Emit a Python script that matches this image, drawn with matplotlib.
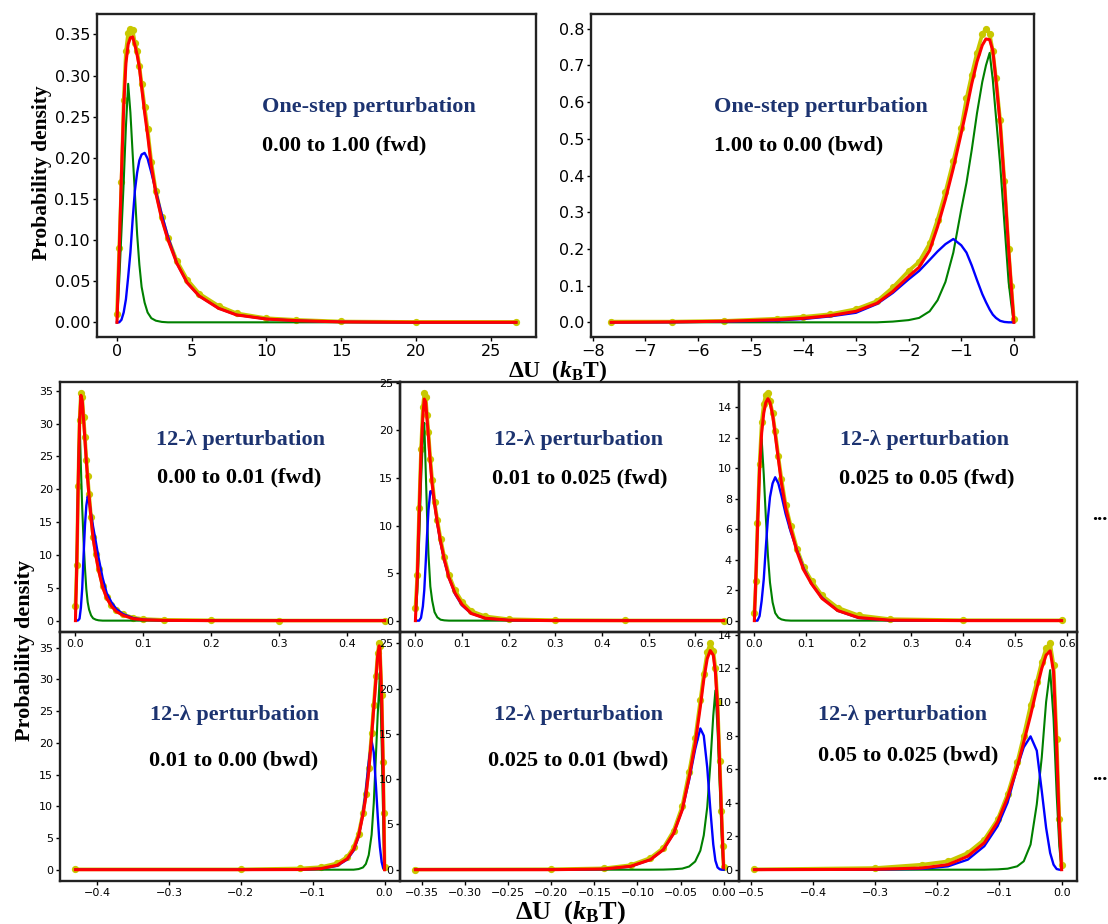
import matplotlib
matplotlib.use("Agg")
import matplotlib.pyplot as plt
from matplotlib.ticker import MultipleLocator

plt.rcParams['font.family'] = ['DejaVu Sans']
plt.rcParams['mathtext.fontset'] = 'custom'
plt.rcParams['mathtext.rm'] = 'Liberation Serif:bold'
plt.rcParams['mathtext.it'] = 'Liberation Serif:bold:italic'
plt.rcParams['mathtext.bf'] = 'Liberation Serif:bold'

# ---- one-step, 0.00 -> 1.00 (fwd)
tl_x = [0, 0.15, 0.3, 0.45, 0.6, 0.75, 0.9, 1.05, 1.2, 1.35, 1.5, 1.65, 1.85, 2.05,
        2.3, 2.6, 3.0, 3.4, 4.0, 4.7, 5.5, 6.8, 8.0, 10, 12, 15, 20, 26.7]
tl_dots = [0.01, 0.09, 0.17, 0.27, 0.33, 0.352, 0.357, 0.355, 0.34, 0.33, 0.312, 0.29, 0.262, 0.235,
           0.195, 0.16, 0.128, 0.103, 0.075, 0.052, 0.035, 0.02, 0.011, 0.005, 0.003, 0.001, 0.0005, 0.0005]
tl_green = [0, 0.05, 0.11, 0.17, 0.238, 0.290, 0.255, 0.205, 0.157, 0.107, 0.07, 0.043, 0.024, 0.012,
            0.005, 0.002, 0.0005, 0, 0, 0, 0, 0, 0, 0, 0, 0, 0, 0]
tl_blue = [0, 0, 0.003, 0.012, 0.028, 0.055, 0.085, 0.125, 0.16, 0.182, 0.197, 0.204, 0.206, 0.199,
           0.182, 0.16, 0.131, 0.105, 0.072, 0.048, 0.032, 0.017, 0.009, 0.004, 0.002, 0.0005, 0, 0]
tl_red = [0, 0.084, 0.18, 0.262, 0.315, 0.338, 0.346, 0.347, 0.337, 0.325, 0.31, 0.286, 0.255, 0.228,
          0.19, 0.157, 0.125, 0.101, 0.072, 0.048, 0.032, 0.017, 0.009, 0.004, 0.002, 0.0005, 0, 0]

# ---- one-step, 1.00 -> 0.00 (bwd)
tr_x = [-7.65, -6.5, -5.5, -4.5, -4.0, -3.5, -3.0, -2.6, -2.3, -2.0, -1.8, -1.6, -1.45, -1.3,
        -1.15, -1.0, -0.9, -0.8, -0.7, -0.6, -0.53, -0.46, -0.4, -0.34, -0.26, -0.18, -0.1, -0.05, 0.0]
tr_dots = [0.002, 0.002, 0.004, 0.01, 0.015, 0.022, 0.036, 0.058, 0.095, 0.14, 0.165, 0.215, 0.28, 0.355,
           0.44, 0.53, 0.61, 0.675, 0.735, 0.785, 0.80, 0.785, 0.74, 0.665, 0.55, 0.385, 0.2, 0.1, 0.01]
tr_green = [0, 0, 0, 0, 0, 0, 0, 0, 0.002, 0.006, 0.012, 0.03, 0.06, 0.11,
            0.19, 0.307, 0.38, 0.47, 0.57, 0.655, 0.70, 0.734, 0.66, 0.56, 0.43, 0.27, 0.11, 0.05, 0]
tr_blue = [0, 0.0005, 0.002, 0.005, 0.009, 0.016, 0.026, 0.05, 0.08, 0.117, 0.14, 0.17, 0.193, 0.213,
           0.227, 0.21, 0.19, 0.155, 0.115, 0.077, 0.055, 0.035, 0.021, 0.012, 0.004, 0.001, 0, 0, 0]
tr_red = [0, 0.001, 0.003, 0.007, 0.011, 0.018, 0.03, 0.052, 0.084, 0.125, 0.15, 0.196, 0.26, 0.335,
          0.42, 0.515, 0.58, 0.65, 0.71, 0.755, 0.772, 0.77, 0.74, 0.66, 0.54, 0.38, 0.2, 0.1, 0]

# ---- 12-lambda, 0.00 -> 0.01 (fwd)
f1_x = [0, 0.002, 0.004, 0.006, 0.008, 0.010, 0.012, 0.014, 0.016, 0.018, 0.020, 0.023, 0.026,
        0.030, 0.034, 0.040, 0.046, 0.053, 0.060, 0.070, 0.085, 0.10, 0.13, 0.2, 0.3, 0.455]
f1_dots = [2.2, 8.5, 20.5, 30.5, 34.6, 34, 31, 28, 24.5, 22, 19.3, 15.8, 12.8,
           10.2, 7.9, 5.3, 3.6, 2.4, 1.6, 0.95, 0.45, 0.25, 0.12, 0.05, 0.02, 0.01]
f1_green = [0, 10, 22, 31, 23.5, 17, 12, 8, 4.8, 2.8, 1.7, 0.8, 0.35,
            0.15, 0.05, 0, 0, 0, 0, 0, 0, 0, 0, 0, 0, 0]
f1_blue = [0, 0, 0.05, 0.3, 2, 5, 10, 14.5, 17.5, 18.9, 18.3, 16.2, 14.3,
           12, 9.6, 6.5, 4.2, 2.8, 1.8, 1.0, 0.4, 0.15, 0.05, 0, 0, 0]
f1_red = [0, 8.6, 20.8, 30, 34.3, 33.5, 30.5, 27.5, 24.3, 21.5, 19, 15.5, 12.5,
          9.9, 7.7, 5.1, 3.4, 2.2, 1.4, 0.8, 0.3, 0.12, 0.04, 0, 0, 0]

# ---- 12-lambda, 0.01 -> 0.025 (fwd)
f2_x = [0, 0.004, 0.008, 0.012, 0.016, 0.019, 0.022, 0.025, 0.028, 0.032, 0.036, 0.041,
        0.047, 0.054, 0.062, 0.072, 0.085, 0.1, 0.12, 0.15, 0.2, 0.3, 0.45, 0.661]
f2_dots = [1.3, 4.8, 11.8, 18, 22.5, 23.9, 23.5, 21.6, 19.8, 17, 14.8, 12.5,
           10.6, 8.6, 6.7, 4.8, 3.2, 2.0, 1.0, 0.45, 0.15, 0.05, 0.02, 0.01]
f2_green = [0, 3, 8.5, 14.5, 19.2, 20.8, 16, 11, 7, 3.6, 2.1, 0.9,
            0.35, 0.1, 0.03, 0, 0, 0, 0, 0, 0, 0, 0, 0]
f2_blue = [0, 0, 0, 0.3, 1.5, 3.2, 6, 9, 11.6, 13.6, 13.6, 12.4,
           10.2, 8.2, 6.3, 4.5, 2.8, 1.6, 0.75, 0.25, 0.05, 0, 0, 0]
f2_red = [0, 4.5, 11.3, 17.5, 21.5, 23.3, 23, 21.2, 19.3, 16.6, 14.3, 12.3,
          10.3, 8.3, 6.4, 4.5, 2.9, 1.7, 0.75, 0.25, 0.05, 0, 0, 0]

# ---- 12-lambda, 0.025 -> 0.05 (fwd)
f3_x = [0, 0.003, 0.006, 0.010, 0.014, 0.018, 0.022, 0.026, 0.030, 0.035, 0.040, 0.046,
        0.052, 0.060, 0.070, 0.082, 0.095, 0.11, 0.13, 0.16, 0.2, 0.26, 0.4, 0.59]
f3_dots = [0.5, 2.6, 6.4, 10.3, 13, 14.2, 14.8, 14.9, 14.4, 13.6, 12.4, 10.8,
           9.3, 7.6, 6.2, 4.7, 3.5, 2.6, 1.65, 0.85, 0.35, 0.1, 0.03, 0.02]
f3_green = [0, 3, 6.3, 9.8, 11.9, 9.6, 6.8, 4.3, 2.5, 1.2, 0.5, 0.2,
            0.08, 0.02, 0, 0, 0, 0, 0, 0, 0, 0, 0, 0]
f3_blue = [0, 0, 0, 0.3, 1.3, 2.7, 4.8, 6.7, 8.1, 9.0, 9.4, 9.0,
           8.2, 7.0, 5.8, 4.6, 3.4, 2.4, 1.5, 0.65, 0.18, 0.02, 0, 0]
f3_red = [0, 3, 6, 9.9, 12.3, 13.6, 14.3, 14.55, 14.3, 13.5, 12.2, 10.6,
          9.0, 7.4, 6.0, 4.5, 3.3, 2.4, 1.45, 0.66, 0.2, 0.03, 0, 0]

# ---- 12-lambda, 0.01 -> 0.00 (bwd)
b1_x = [-0.43, -0.2, -0.117, -0.089, -0.066, -0.052, -0.043, -0.036, -0.030, -0.026, -0.022,
        -0.018, -0.015, -0.012, -0.0095, -0.0075, -0.0065, -0.004, -0.002, -0.001, 0]
b1_dots = [0.05, 0.05, 0.2, 0.4, 1.0, 2.0, 3.5, 5.7, 9, 12, 16,
           21.5, 26, 30.5, 34.2, 35.7, 35.2, 27.5, 17, 9, 0.5]
b1_green = [0, 0, 0, 0, 0, 0, 0, 0.1, 0.35, 0.9, 2.3,
            5.5, 10.5, 18, 24.5, 28.5, 31.1, 20, 9, 4, 0]
b1_blue = [0, 0, 0.02, 0.15, 0.6, 1.6, 3, 5.2, 9, 12.5, 17,
           20.3, 18.5, 13.3, 8.5, 5, 3.6, 1.2, 0.3, 0.1, 0]
b1_red = [0, 0, 0.02, 0.16, 0.7, 1.7, 3.2, 5.4, 8.7, 11.5, 15.5,
          21, 25.5, 30, 33.8, 35.3, 35, 27, 16.5, 8.5, 0]

# ---- 12-lambda, 0.025 -> 0.01 (bwd)
b2_x = [-0.3577, -0.2, -0.139, -0.108, -0.085, -0.07, -0.058, -0.048, -0.040, -0.033, -0.027,
        -0.023, -0.019, -0.0155, -0.012, -0.0095, -0.007, -0.0045, -0.0025, -0.001, 0]
b2_dots = [0.02, 0.05, 0.15, 0.5, 1.3, 2.4, 4.3, 7, 10.8, 14.5, 18.7,
           21.6, 24, 25, 24.2, 22.3, 18.5, 12, 6.5, 2.6, 0.3]
b2_green = [0, 0, 0, 0, 0, 0.01, 0.05, 0.12, 0.35, 0.9, 2.1,
            3.8, 6.9, 11.5, 17, 19.8, 15.5, 9.5, 4.5, 1.5, 0]
b2_blue = [0, 0, 0.07, 0.35, 1.1, 2.2, 4, 6.6, 9.9, 13.3, 15.6,
           14.8, 11.3, 6.8, 2.8, 1.0, 0.25, 0.05, 0, 0, 0]
b2_red = [0, 0, 0.07, 0.37, 1.1, 2.2, 4, 6.6, 10.2, 13.9, 18,
          21, 23.3, 24.2, 23.7, 21.8, 18, 11.5, 6.3, 2.5, 0.2]

# ---- 12-lambda, 0.05 -> 0.025 (bwd)
b3_x = [-0.4945, -0.3, -0.225, -0.183, -0.151, -0.1245, -0.103, -0.087, -0.0715, -0.061,
        -0.050, -0.040, -0.032, -0.025, -0.0185, -0.013, -0.008, -0.0037, 0]
b3_dots = [0.02, 0.1, 0.3, 0.5, 1.0, 1.8, 3.0, 4.5, 6.4, 8.0,
           9.8, 11.2, 12.4, 13.2, 13.5, 12.2, 7.8, 3, 0.3]
b3_green = [0, 0, 0, 0, 0, 0, 0.02, 0.06, 0.2, 0.5,
            1.5, 3.9, 6.7, 10, 11.9, 9, 4.5, 1.4, 0]
b3_blue = [0, 0.01, 0.05, 0.2, 0.6, 1.4, 2.6, 4.0, 6.1, 7.3,
           7.95, 7.1, 4.7, 2.5, 1.0, 0.3, 0.04, 0, 0]
b3_red = [0, 0.02, 0.1, 0.3, 0.8, 1.6, 2.85, 4.3, 6.1, 7.6,
          9.2, 10.8, 12, 12.8, 13.05, 11.8, 7.3, 2.6, 0]

W, H = 1108, 924
fig = plt.figure(figsize=(W / 100, H / 100), dpi=100)


def make_ax(l, r, t, b):
    ax = fig.add_axes([l / W, 1 - b / H, (r - l) / W, (b - t) / H])
    ax.patch.set_visible(False)
    return ax


def draw(ax, x, dots, g, bl, rd, xstep, ystep, fs):
    ax.plot(x, dots, color='#c8c800', lw=2.6, marker='o', ms=4.2, zorder=1)
    ax.plot(x, g, color='#008000', lw=1.5, zorder=2)
    ax.plot(x, bl, color='#0000ff', lw=1.7, zorder=3)
    ax.plot(x, rd, color='#ff0000', lw=2.2, zorder=4)
    ax.xaxis.set_major_locator(MultipleLocator(xstep))
    ax.yaxis.set_major_locator(MultipleLocator(ystep))
    ax.tick_params(labelsize=fs, length=3, width=1, pad=2)
    for s in ax.spines.values():
        s.set_linewidth(1.7)
        s.set_color('#222222')


def ftext(x, y, s, color='black', ha='left', size=16, va='center', **kw):
    fig.text(x / W, 1 - y / H, s, color=color, ha=ha, va=va, fontsize=size,
             family='Liberation Serif', weight='bold', **kw)


navy = '#1c3370'

ax = make_ax(97, 536, 14, 337)
draw(ax, tl_x, tl_dots, tl_green, tl_blue, tl_red, 5, 0.05, 11.5)
ax = make_ax(591, 1034, 14, 337)
draw(ax, tr_x, tr_dots, tr_green, tr_blue, tr_red, 1, 0.1, 11.5)

cols = [(60, 400), (400, 739), (739, 1077)]
row1 = [(f1_x, f1_dots, f1_green, f1_blue, f1_red, 0.1, 5),
        (f2_x, f2_dots, f2_green, f2_blue, f2_red, 0.1, 5),
        (f3_x, f3_dots, f3_green, f3_blue, f3_red, 0.1, 2)]
row2 = [(b1_x, b1_dots, b1_green, b1_blue, b1_red, 0.1, 5),
        (b2_x, b2_dots, b2_green, b2_blue, b2_red, 0.05, 5),
        (b3_x, b3_dots, b3_green, b3_blue, b3_red, 0.1, 2)]
for (l, r), d in zip(cols, row1):
    draw(make_ax(l, r, 382, 632), *d, 8)
for (l, r), d in zip(cols, row2):
    draw(make_ax(l, r, 632, 881), *d, 8)

ftext(262, 107, 'One-step perturbation', navy)
ftext(262, 145, '0.00 to 1.00 (fwd)')
ftext(714, 107, 'One-step perturbation', navy)
ftext(714, 145, '1.00 to 0.00 (bwd)')

ftext(240, 440, '12-λ perturbation', navy, ha='center')
ftext(239, 477, '0.00 to 0.01 (fwd)', ha='center')
ftext(579, 440, '12-λ perturbation', navy, ha='center')
ftext(580, 478, '0.01 to 0.025 (fwd)', ha='center')
ftext(924, 440, '12-λ perturbation', navy, ha='center')
ftext(927, 478, '0.025 to 0.05 (fwd)', ha='center')
ftext(235, 715, '12-λ perturbation', navy, ha='center')
ftext(234, 760, '0.01 to 0.00 (bwd)', ha='center')
ftext(579, 715, '12-λ perturbation', navy, ha='center')
ftext(578, 760, '0.025 to 0.01 (bwd)', ha='center')
ftext(902, 715, '12-λ perturbation', navy, ha='center')
ftext(908, 755, '0.05 to 0.025 (bwd)', ha='center')

ftext(42, 173, 'Probability density', ha='center', size=15.5, rotation=90)
ftext(25, 650, 'Probability density', ha='center', size=16, rotation=90)
ftext(558, 371, r'ΔU  ($k_{\mathrm{B}}$T)', ha='center', size=17)
ftext(570, 899, r'ΔU  ($k_{\mathrm{B}}$T)', ha='center', size=19, va='top')

ftext(1092, 515, '...', size=15)
ftext(1092, 775, '...', size=15)

fig.savefig('out.png', dpi=100)
